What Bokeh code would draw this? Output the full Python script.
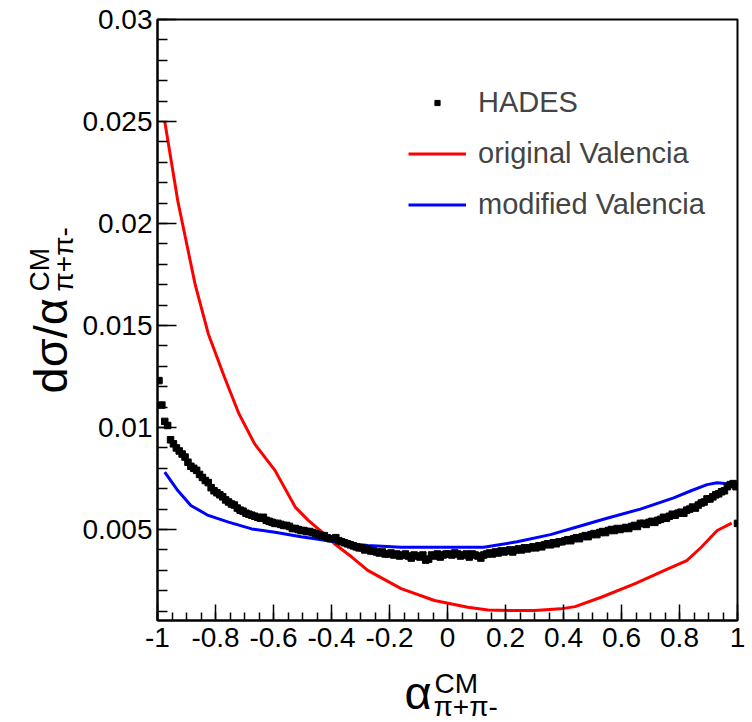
import numpy as np
from bokeh.plotting import figure
from bokeh.models import (Range1d, SingleIntervalTicker, CustomJSTickFormatter, Label,
                          Legend, LegendItem)
from bokeh.layouts import row, column
from bokeh.embed import file_html
from bokeh.resources import INLINE

# ---------------- data (y in units of 1e-3) ----------------
hades_x = -0.995 + 0.01 * np.arange(200)
hades_y = [
    12.3, 11.1, 10.3, 10.1, 9.4, 9.2, 9.0, 8.85, 8.7, 8.55,
    8.3, 8.1, 8.0, 7.9, 7.7, 7.55, 7.4, 7.3, 7.05, 6.9,
    6.8, 6.7, 6.6, 6.45, 6.35, 6.25, 6.2, 6.05, 5.95, 5.9,
    5.8, 5.75, 5.7, 5.65, 5.6, 5.55, 5.6, 5.45, 5.4, 5.35,
    5.3, 5.3, 5.25, 5.2, 5.2, 5.15, 5.05, 5.05, 5.0, 4.95,
    4.95, 4.9, 4.9, 4.85, 4.8, 4.75, 4.7, 4.7, 4.6, 4.55,
    4.55, 4.6, 4.45, 4.4, 4.35, 4.3, 4.25, 4.2, 4.15, 4.1,
    4.1, 4.0, 4.05, 3.95, 3.95, 3.9, 3.85, 3.9, 3.8, 3.8,
    3.85, 3.75, 3.8, 3.7, 3.75, 3.8, 3.7, 3.6, 3.75, 3.7,
    3.65, 3.75, 3.5, 3.55, 3.75, 3.7, 3.8, 3.65, 3.75, 3.8,
    3.8, 3.75, 3.85, 3.8, 3.7, 3.75, 3.8, 3.65, 3.8, 3.75,
    3.7, 3.6, 3.75, 3.8, 3.85, 3.8, 3.9, 3.85, 3.95, 3.9,
    3.95, 4.0, 3.9, 4.0, 4.05, 4.0, 4.1, 4.05, 4.1, 4.15,
    4.1, 4.2, 4.15, 4.25, 4.3, 4.25, 4.35, 4.3, 4.4, 4.4,
    4.45, 4.5, 4.45, 4.55, 4.6, 4.55, 4.65, 4.7, 4.65, 4.75,
    4.8, 4.75, 4.85, 4.9, 4.85, 4.95, 5.0, 4.95, 5.05, 5.0,
    5.05, 5.1, 5.05, 5.15, 5.2, 5.15, 5.3, 5.3, 5.25, 5.35,
    5.4, 5.35, 5.45, 5.5, 5.6, 5.55, 5.65, 5.75, 5.7, 5.8,
    5.85, 5.8, 5.95, 6.0, 6.1, 6.05, 6.2, 6.3, 6.35, 6.5,
    6.5, 6.6, 6.7, 6.75, 6.85, 6.9, 7.1, 7.2, 7.25, 7.1,
]
edge_x = [1.0]
edge_y = [5.3]

red_x = [-0.975, -0.93, -0.87, -0.825, -0.77, -0.72, -0.665, -0.595, -0.525, -0.48,
         -0.41, -0.39, -0.33, -0.275, -0.16, -0.045, 0.07, 0.14, 0.21, 0.3,
         0.39, 0.44, 0.53, 0.645, 0.76, 0.825, 0.875, 0.93, 0.98]
red_y = [25.0, 21.1, 17.0, 14.6, 12.5, 10.7, 9.2, 7.9, 6.1, 5.45,
         4.6, 4.3, 3.65, 3.0, 2.1, 1.52, 1.19, 1.06, 1.03, 1.03,
         1.11, 1.22, 1.68, 2.34, 3.07, 3.48, 4.13, 4.95, 5.31]

blue_x = [-0.975, -0.93, -0.885, -0.825, -0.755, -0.675, -0.595, -0.505, -0.41, -0.33,
          -0.275, -0.16, -0.045, 0.125, 0.24, 0.355, 0.44, 0.55, 0.665, 0.78,
          0.84, 0.895, 0.93, 0.965, 0.985]
blue_y = [7.81, 6.91, 6.18, 5.69, 5.36, 5.03, 4.87, 4.65, 4.45, 4.3,
          4.22, 4.13, 4.13, 4.13, 4.4, 4.75, 5.1, 5.55, 6.0, 6.55,
          6.9, 7.2, 7.29, 7.24, 7.16]

legend_labels = ["HADES", "original Valencia", "modified Valencia"]

scale = 1e-3
FONT = "Liberation Sans"

LEFT_W = 79      # width of the strip holding the y-axis title
BOTTOM_H = 62    # height of the strip holding the x-axis title
TOTAL_W, TOTAL_H = 752, 722
FRAME_LEFT = 156  # canvas x of the plot frame's left edge

# ---------------- main plot ----------------
p = figure(width=TOTAL_W - LEFT_W, height=TOTAL_H - BOTTOM_H,
           output_backend="svg", toolbar_location=None,
           x_range=Range1d(-1.0000001, 1.0000001), y_range=Range1d(0.00054, 0.0300001),
           min_border_left=FRAME_LEFT - LEFT_W, min_border_right=15, min_border_top=19,
           min_border_bottom=40,
           background_fill_color="white", border_fill_color="white")
p.grid.visible = False
p.outline_line_color = "black"
p.outline_line_width = 2

p.xaxis.ticker = SingleIntervalTicker(interval=0.2, num_minor_ticks=4)
p.yaxis.ticker = SingleIntervalTicker(interval=0.005, num_minor_ticks=5)
p.xaxis.formatter = CustomJSTickFormatter(code="return (Math.round(tick*10)/10).toString();")
p.yaxis.formatter = CustomJSTickFormatter(code="return tick.toFixed(3).replace(/0+$/, '');")
for ax in (p.xaxis[0], p.yaxis[0]):
    ax.axis_line_color = "black"
    ax.axis_line_width = 2
    ax.major_tick_line_color = "black"
    ax.minor_tick_line_color = "black"
    ax.major_tick_line_width = 1.5
    ax.minor_tick_line_width = 1.5
    ax.major_tick_out = 0
    ax.minor_tick_out = 0
    ax.major_label_text_font = FONT
    ax.major_label_text_font_size = "28px"
    ax.major_label_text_color = "black"
p.xaxis.major_tick_in = 16
p.xaxis.minor_tick_in = 8
p.yaxis.major_tick_in = 19
p.yaxis.minor_tick_in = 10
p.xaxis.major_label_standoff = 7
p.yaxis.major_label_standoff = 5

r_red = p.line(red_x, [v * scale for v in red_y], line_color="#ff0000", line_width=3)
r_blue = p.line(blue_x, [v * scale for v in blue_y], line_color="#0000ff", line_width=3)
r_hades = p.scatter(hades_x, [v * scale for v in hades_y], marker="square", size=6.5,
                    fill_color="black", line_color="black")
p.scatter(edge_x, [v * scale for v in edge_y], marker="square", size=6.5,
          fill_color="black", line_color="black")

legend = Legend(items=[LegendItem(label=legend_labels[0], renderers=[r_hades]),
                       LegendItem(label=legend_labels[1], renderers=[r_red]),
                       LegendItem(label=legend_labels[2], renderers=[r_blue])],
                location=(251, 399), orientation="vertical",
                glyph_width=58, glyph_height=13, label_height=34, spacing=17,
                label_standoff=12, padding=0, margin=0,
                label_text_font=FONT, label_text_font_size="29px",
                border_line_color=None, background_fill_alpha=0)
p.add_layout(legend)


def strip(w, h, **kw):
    f = figure(width=w, height=h, output_backend="svg", toolbar_location=None,
               x_range=Range1d(0, 1), y_range=Range1d(0, 1),
               background_fill_color="white", border_fill_color="white", **kw)
    f.axis.visible = False
    f.grid.visible = False
    f.outline_line_color = None
    return f


def lab(f, x, y, text, size, angle=0.0):
    f.add_layout(Label(x=x, y=y, x_units="screen", y_units="screen", text=text,
                       angle=angle, text_font=FONT, text_font_size=size,
                       text_align="left", text_baseline="bottom", text_color="black"))


# y-axis title strip (canvas x 0..LEFT_W); rotated text, its bottom faces right
left = strip(LEFT_W, TOTAL_H, min_border=0)
lab(left, 76, TOTAL_H - 393, "dσ/α", "47px", angle=np.pi / 2)
lab(left, 54, TOTAL_H - 291, "CM", "28px", angle=np.pi / 2)
lab(left, 78, TOTAL_H - 291, "π+π-", "28px", angle=np.pi / 2)

# x-axis title strip (canvas y 660..722); its frame is aligned with the main frame
bottom = strip(TOTAL_W - LEFT_W, BOTTOM_H, min_border_left=FRAME_LEFT - LEFT_W,
               min_border_right=15, min_border_top=0, min_border_bottom=0)
lab(bottom, 403 - FRAME_LEFT, TOTAL_H - 718, "α", "47px")
lab(bottom, 433 - FRAME_LEFT, TOTAL_H - 698, "CM", "28px")
lab(bottom, 432 - FRAME_LEFT, TOTAL_H - 721, "π+π-", "28px")

layout = row(left, column(p, bottom, spacing=0), spacing=0)

open("out.html", "w").write(file_html(layout, INLINE))
